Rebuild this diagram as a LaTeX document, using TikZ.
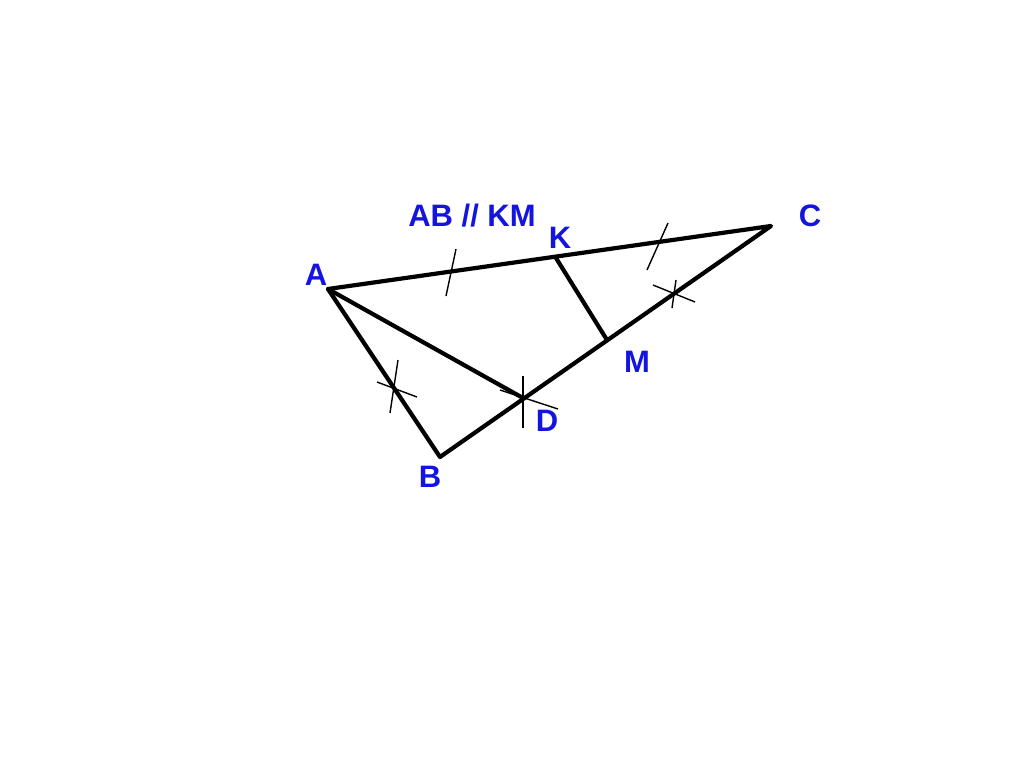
\documentclass[tikz,border=0pt]{standalone}
\usepackage{fontspec}
\setmainfont{Liberation Sans}
\definecolor{lblblue}{RGB}{20,20,225}

\begin{document}
\begin{tikzpicture}[x=1pt,y=-1pt,
    side/.style={line width=4.2pt,line cap=round,line join=round},
    tick/.style={line width=1.4pt},
    lbl/.style={text=lblblue,font=\fontsize{31}{31}\selectfont\bfseries,inner sep=0pt}]
    \useasboundingbox (0,0) rectangle (1024,768);
    % vertices
    \coordinate (A) at (328,289);
    \coordinate (B) at (440,457);
    \coordinate (C) at (771,226);
    \coordinate (D) at (523,398);
    \coordinate (K) at (556,258);
    \coordinate (M) at (607,340);
    \draw[side] (A) -- (C) -- (B) -- cycle;
    \draw[side] (A) -- (D);
    \draw[side] (K) -- (M);
    % ticks
    \coordinate (t1a) at (456,249); \coordinate (t1b) at (446,296);
    \coordinate (t2a) at (668,223); \coordinate (t2b) at (647,270);
    \coordinate (t3a) at (398,360); \coordinate (t3b) at (390,413);
    \coordinate (t4a) at (377,382); \coordinate (t4b) at (417,397);
    \coordinate (t5a) at (523,376); \coordinate (t5b) at (523,428);
    \coordinate (t6a) at (500,390); \coordinate (t6b) at (558,409);
    \coordinate (t7a) at (653,285); \coordinate (t7b) at (695,302);
    \coordinate (t8a) at (676,280); \coordinate (t8b) at (672,308);
    \draw[tick] (t1a) -- (t1b);
    \draw[tick] (t2a) -- (t2b);
    \draw[tick] (t3a) -- (t3b);
    \draw[tick] (t4a) -- (t4b);
    \draw[tick] (t5a) -- (t5b);
    \draw[tick] (t6a) -- (t6b);
    \draw[tick] (t7a) -- (t7b);
    \draw[tick] (t8a) -- (t8b);
    % labels
    \node[lbl] (lA) at (316,275) {A};
    \node[lbl] (lB) at (430,477) {B};
    \node[lbl] (lC) at (810,216) {C};
    \node[lbl] (lD) at (547,421) {D};
    \node[lbl] (lK) at (560,238) {K};
    \node[lbl] (lM) at (637,362) {M};
    \node[lbl] (par) at (472,216) {AB // KM};
\end{tikzpicture}
\end{document}
